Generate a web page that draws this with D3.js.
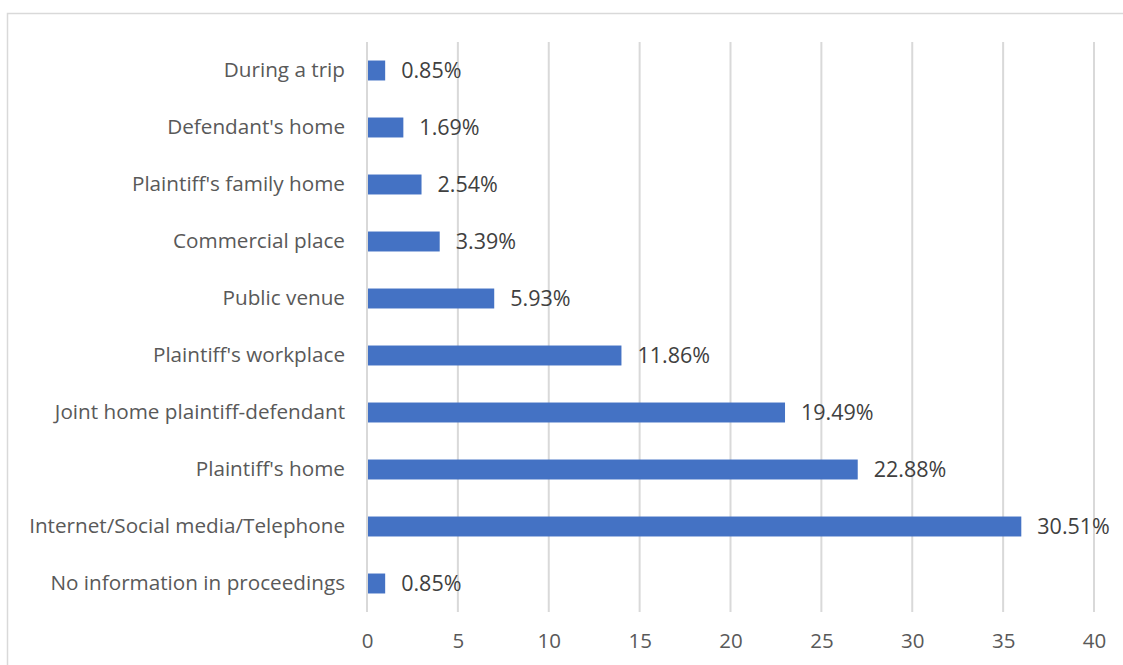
<!DOCTYPE html>
<html>
<head>
<meta charset="utf-8">
<script src="https://cdn.jsdelivr.net/npm/d3@7"></script>
<style>
  html, body { margin: 0; padding: 0; background: #fff; }
  svg { display: block; }
  text { font-family: "Open Sans", "Noto Sans", sans-serif; }
</style>
</head>
<body>
<svg id="chart" width="1123" height="665"></svg>
<script>
// Place of the incident, top to bottom
const categories = [
  "During a trip",
  "Defendant's home",
  "Plaintiff's family home",
  "Commercial place",
  "Public venue",
  "Plaintiff's workplace",
  "Joint home plaintiff-defendant",
  "Plaintiff's home",
  "Internet/Social media/Telephone",
  "No information in proceedings"
];
// Number of cases
const counts = [1, 2, 3, 4, 7, 14, 23, 27, 36, 1];
// Share of all cases, shown next to each bar
const shareLabels = ["0.85%", "1.69%", "2.54%", "3.39%", "5.93%", "11.86%", "19.49%", "22.88%", "30.51%", "0.85%"];
const xTicks = [0, 5, 10, 15, 20, 25, 30, 35, 40];

const svg = d3.select("#chart");
const W = 1123, H = 665;
const margin = { left: 367, right: 29, top: 42, bottom: 53 };

// outer frame
svg.append("rect")
  .attr("x", 7.5).attr("y", 13.5)
  .attr("width", W).attr("height", H)
  .attr("fill", "none").attr("stroke", "#d9d9d9").attr("stroke-width", 1.5);

const x = d3.scaleLinear().domain([0, 40]).range([margin.left, W - margin.right]);
const y = d3.scaleBand().domain(categories).range([margin.top, H - margin.bottom]).paddingInner(0.65).paddingOuter(0.325);

// vertical gridlines
svg.append("g")
  .selectAll("line")
  .data(xTicks)
  .join("line")
  .attr("x1", d => x(d)).attr("x2", d => x(d))
  .attr("y1", margin.top).attr("y2", H - margin.bottom)
  .attr("stroke", "#d9d9d9").attr("stroke-width", 2);

// x axis labels
const xAxis = d3.axisBottom(x).tickValues(xTicks).tickSize(0).tickPadding(0);
const gx = svg.append("g")
  .attr("transform", `translate(0,${H - margin.bottom})`)
  .call(xAxis);
gx.select(".domain").remove();
gx.selectAll("text")
  .attr("dy", null)
  .attr("y", 36)
  .attr("fill", "#595959")
  .style("font-size", "20.5px")
  .style("font-family", '"Open Sans", sans-serif');

// category labels
const yAxis = d3.axisLeft(y).tickSize(0).tickPadding(22);
const gy = svg.append("g")
  .attr("transform", `translate(${margin.left},0)`)
  .call(yAxis);
gy.select(".domain").remove();
gy.selectAll("text")
  .attr("fill", "#595959")
  .style("font-size", "20.7px")
  .style("font-family", '"Open Sans", sans-serif');

// bars
svg.append("g")
  .selectAll("rect")
  .data(categories)
  .join("rect")
  .attr("x", x(0) + 1)
  .attr("y", d => y(d))
  .attr("width", (d, i) => x(counts[i]) - x(0) - 1)
  .attr("height", y.bandwidth())
  .attr("fill", "#4472c4");

// value labels
svg.append("g")
  .selectAll("text")
  .data(categories)
  .join("text")
  .attr("x", (d, i) => x(counts[i]) + 16)
  .attr("y", d => y(d) + y.bandwidth() / 2)
  .attr("dy", "0.35em")
  .attr("fill", "#404040")
  .style("font-size", "21.5px")
  .text((d, i) => shareLabels[i]);
</script>
</body>
</html>
